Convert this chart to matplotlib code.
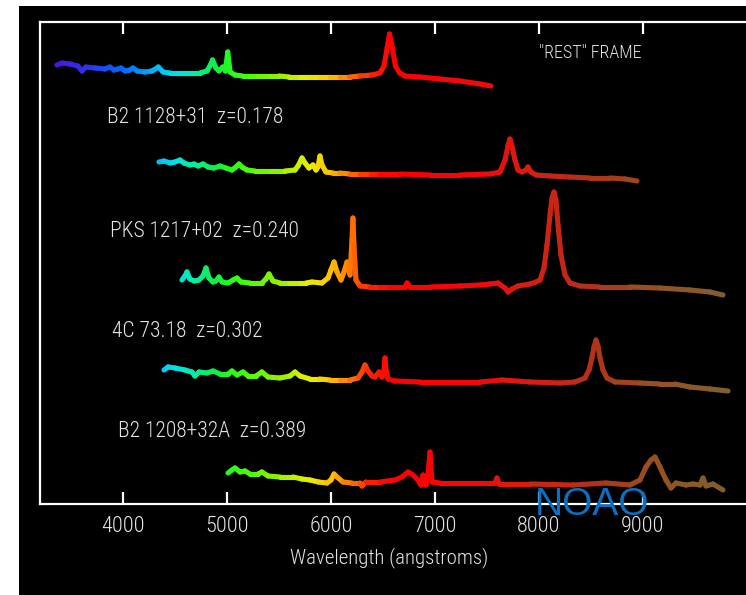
import numpy as np
import matplotlib
matplotlib.use("Agg")
import matplotlib.pyplot as plt
from matplotlib.collections import LineCollection
from matplotlib.colors import LinearSegmentedColormap, Normalize
from matplotlib.patches import Rectangle

plt.rcParams['font.family'] = ['Roboto Condensed', 'Barlow Condensed', 'Archivo Narrow', 'DejaVu Sans']
plt.rcParams['font.weight'] = 'light'

# ---------------- data (wavelength in angstroms, flux in arbitrary offset units) ----------------
wl_rest = [3365,3414,3490,3567,3606,3644,3731,3827,3875,3913,3952,3981,4019,4067,4096,4135,4212,4279,4340,4385,
           4452,4520,4596,4670,4740,4808,4836,4861,4894,4923,4959,4985,5007,5030,5077,5150,5221,5300,5413,5500,
           5600,5702,5800,5894,5990,6086,6180,6279,6394,6471,6510,6540,6563,6590,6620,6660,6711,6856,7048,7240,
           7433,7538]
fl_rest = [439,441,440,438,433,437,436,435,437,434,435,436,433,434,436,433,432,433,437,432,
           431,431,431,431,431,433,438,444,436,433,437,433,452,432,429,428,428,428,428,428,
           427,427,427,427,427,427,427,428,429,431,438,456,470,456,438,431,428,427,425,423,
           420,418]

wl_b2_1128 = [4346,4394,4452,4500,4548,4587,4644,4683,4721,4769,4817,4875,4933,4990,5048,5086,5115,5144,5192,5269,
              5413,5558,5654,5683,5721,5750,5788,5827,5856,5875,5894,5913,5952,6020,6086,6180,6279,6380,6471,6663,
              6952,7240,7529,7625,7673,7702,7721,7740,7769,7798,7836,7875,7894,7923,7971,8106,8298,8490,8683,8827,
              8942]
fl_b2_1128 = [342,343,341,342,344,341,339,340,338,340,337,336,338,336,334,337,340,337,334,333,
              333,333,334,338,346,341,336,339,334,337,348,339,332,331,331,330,330,330,330,330,
              329,329,330,332,344,358,365,358,344,334,332,334,337,332,329,328,327,326,326,325,
              323]

wl_pks1217 = [4567,4596,4615,4644,4683,4731,4769,4798,4827,4865,4894,4923,4952,5010,5058,5096,5135,5221,5336,5375,
              5404,5442,5510,5600,5702,5760,5817,5913,5971,6000,6029,6058,6096,6125,6154,6183,6202,6211,6221,6240,
              6279,6375,6470,6567,6711,6731,6760,6952,7240,7433,7529,7606,7644,7673,7702,7740,7798,7913,7971,8010,
              8048,8077,8106,8125,8144,8163,8183,8211,8250,8298,8394,8587,8875,9163,9452,9644,9769]
fl_pks1217 = [224,228,232,225,223,224,228,236,226,222,223,227,222,221,224,226,222,221,221,225,
              230,223,221,221,221,221,222,221,226,234,242,232,224,232,242,229,264,286,259,224,
              218,217,217,217,217,221,217,217,218,219,220,221,218,216,212,215,218,220,222,224,
              236,259,289,306,312,304,279,249,229,221,218,217,217,216,214,212,209]

wl_4c7318 = [4394,4433,4500,4596,4663,4692,4731,4808,4865,4933,5010,5048,5096,5154,5202,5279,5336,5394,5510,5606,
             5654,5702,5798,5890,5990,6090,6183,6260,6298,6327,6356,6394,6423,6462,6490,6510,6519,6529,6548,6615,
             6856,7096,7433,7644,7913,8202,8346,8442,8481,8509,8529,8548,8567,8587,8615,8654,8731,8971,9163,9307,
             9452,9644,9817]
fl_4c7318 = [134,137,136,134,132,128,132,131,133,130,130,133,129,132,128,128,132,127,126,128,
             132,128,125,125,124,124,124,126,132,139,133,128,127,132,127,134,146,134,125,123,
             122,122,122,124,122,121,122,126,134,146,157,164,158,146,134,126,122,121,120,120,
             117,115,113]

wl_b2_1208 = [5010,5048,5077,5125,5173,5221,5298,5336,5394,5510,5635,5720,5798,5880,5962,6000,6029,6058,6115,6200,
              6279,6298,6336,6471,6615,6683,6740,6788,6836,6865,6885,6913,6933,6952,6971,7048,7336,7577,7596,7615,
              7913,8327,8644,8875,8971,9029,9077,9115,9163,9221,9269,9317,9413,9481,9548,9577,9606,9673,9769]
fl_b2_1208 = [31,34,36,32,33,30,30,32,28,27,27,25,24,22,21,24,30,27,22,21,
              21,18,22,22,24,27,32,29,24,19,29,19,29,52,22,21,21,21,26,20,
              20,19,21,19,24,37,44,47,37,24,16,21,19,20,19,26,18,20,14]

labels = ['B2 1128+31  z=0.178', 'PKS 1217+02  z=0.240', '4C 73.18  z=0.302', 'B2 1208+32A  z=0.389']
label_wl = [3846, 3875, 3894, 3952]
label_fl = [381, 267, 167, 67]

frame_label = '"REST" FRAME'
frame_wl, frame_fl = 8000, 446

tick_values = [4000, 5000, 6000, 7000, 8000, 9000]
xlabel = 'Wavelength (angstroms)'

# wavelength -> colour (observed-frame rainbow)
cmap_wl = [3350, 3700, 4000, 4300, 4500, 4700, 4900, 5100, 5500, 5800, 6000, 6200, 6400, 6600, 7500, 7900, 8300, 8700, 9100, 9800]
cmap_col = ['#5010e0', '#2838f0', '#0068ff', '#00b0ff', '#00e0e8', '#00f0a0', '#10f040', '#30ff10', '#90f000', '#e8f000',
            '#ffc000', '#ff7000', '#ff2000', '#ff0000', '#f00a0a', '#d81e10', '#c02818', '#a83a1a', '#985020', '#80602c']

spectra = [(wl_rest, fl_rest), (wl_b2_1128, fl_b2_1128), (wl_pks1217, fl_pks1217),
           (wl_4c7318, fl_4c7318), (wl_b2_1208, fl_b2_1208)]

# ---------------- figure ----------------
W, H = 746, 595
fig = plt.figure(figsize=(W / 100, H / 100), dpi=100, facecolor='white')
fig.add_artist(Rectangle((19 / W, 0), 1 - 19 / W, 1 - 6 / H, transform=fig.transFigure,
                         facecolor='black', edgecolor='none', zorder=-5))

ax = fig.add_axes([40 / W, (H - 504) / H, 707 / W, 482 / H])
ax.set_facecolor('black')
ax.set_xlim(3202, 10000)
ax.set_ylim(0, 482)

lo, hi = cmap_wl[0], cmap_wl[-1]
cmap = LinearSegmentedColormap.from_list('rainbow_wl', [((w - lo) / (hi - lo), c) for w, c in zip(cmap_wl, cmap_col)])
norm = Normalize(lo, hi)

for wl, fl in spectra:
    wl = np.asarray(wl, float)
    fl = np.asarray(fl, float)
    pts = np.column_stack([wl, fl])
    segs = np.stack([pts[:-1], pts[1:]], axis=1)
    mid = 0.5 * (wl[:-1] + wl[1:])
    lc = LineCollection(segs, colors=cmap(norm(mid)), linewidths=3.7,
                        capstyle='round', joinstyle='round', zorder=3)
    ax.add_collection(lc)

txt_col = '#e4e4e4'
for lab, x, y in zip(labels, label_wl, label_fl):
    ax.text(x, y, lab, color=txt_col, fontsize=15.5, ha='left', va='baseline')
ax.text(frame_wl, frame_fl, frame_label, color=txt_col, fontsize=13, ha='left', va='baseline')

for s in ['left', 'top', 'bottom']:
    ax.spines[s].set_color('white')
    ax.spines[s].set_linewidth(1.6)
ax.spines['right'].set_visible(False)

ax.set_yticks([])
ax.set_xticks(tick_values)
ax.set_xticklabels([str(t) for t in tick_values])
ax.tick_params(axis='x', direction='in', length=8.5, width=1.6, color='white',
               top=True, bottom=True, labeltop=False, labelbottom=True,
               labelsize=16, labelcolor=txt_col, pad=8.5)

fig.text(389 / W, (H - 563) / H, xlabel, color=txt_col, fontsize=15, ha='center', va='baseline')

fig.text(535 / W, (H - 515) / H, 'NOAO', color='#0b6fc2', fontsize=28, weight='normal',
         family=['Liberation Sans', 'DejaVu Sans'], ha='left', va='baseline', zorder=10)

fig.savefig('out.png', dpi=100, facecolor='white')
